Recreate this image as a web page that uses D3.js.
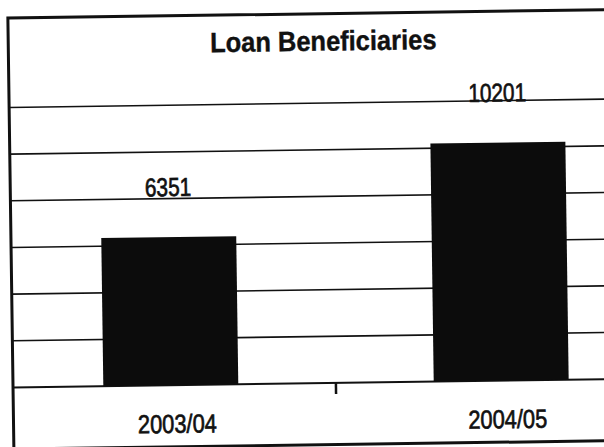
<!DOCTYPE html>
<html>
<head>
<meta charset="utf-8">
<script src="https://cdn.jsdelivr.net/npm/d3@7"></script>
<style>
  body { margin: 0; background: #fff; }
  svg { display: block; }
</style>
</head>
<body>
<main></main>
<script>
let svgWidth  = 604;
let svgHeight = 447;

const categories = ['2003/04', '2004/05'];
const values     = [6351, 10201];
const gridTicks  = [0, 2000, 4000, 6000, 8000, 10000, 12000];

const fontFamily = '"Liberation Sans", Arial, sans-serif';
const ink = '#111111';

var svg = d3.select('body main')
  .append('svg')
  .attr('width', svgWidth)
  .attr('height', svgHeight);

svg.append('rect')
  .attr('width', svgWidth)
  .attr('height', svgHeight)
  .attr('fill', '#ffffff');

// the scanned page sits a little crooked
var chart = svg.append('g')
  .attr('transform', 'rotate(-0.8, 302, 240)');

let x = d3.scaleBand()
  .domain(categories)
  .range([3.5, 664.5])
  .paddingInner(0.5915)
  .paddingOuter(0.296);

let y = d3.scaleLinear()
  .domain([0, 12000])
  .range([383.4, 103.4]);

// narrow text: regular glyphs squeezed sideways, a hair of stroke for the print weight
function narrowText(parent, tx, ty, sx, size, weight, str) {
  parent.append('g')
    .attr('transform', 'translate(' + tx + ',' + ty + ') scale(' + sx + ',1)')
    .append('text')
      .attr('text-anchor', 'middle')
      .attr('font-family', fontFamily)
      .attr('font-size', size + 'px')
      .attr('font-weight', weight)
      .attr('fill', ink)
      .attr('stroke', ink)
      .attr('stroke-width', weight === 'bold' ? 0.4 : 0.7)
      .text(str);
}

// outer frame
chart.append('rect')
  .attr('x', 11)
  .attr('y', 14)
  .attr('width', 700)
  .attr('height', 431)
  .attr('fill', 'none')
  .attr('stroke', ink)
  .attr('stroke-width', 3);

// gridlines
chart.append('g')
  .selectAll('line')
  .data(gridTicks)
  .enter()
    .append('line')
      .attr('x1', 11)
      .attr('x2', svgWidth + 20)
      .attr('y1', function(d) { return y(d); })
      .attr('y2', function(d) { return y(d); })
      .attr('stroke', ink)
      .attr('stroke-width', function(d) { return d === 0 ? 2 : 1.6; });

// bars
chart.append('g')
  .selectAll('rect')
  .data(values)
  .enter()
    .append('rect')
      .attr('x', function(d, i) { return x(categories[i]); })
      .attr('y', function(d) { return y(d); })
      .attr('width', x.bandwidth())
      .attr('height', function(d) { return y(0) - y(d); })
      .attr('fill', '#0c0c0c');

// value labels
values.forEach(function(d, i) {
  narrowText(chart, x(categories[i]) + x.bandwidth() / 2, y(d) - 41, 0.8, 26, 'normal', String(d));
});

// x axis: no domain line (gridline at 0 serves), one tick between the bars
let xAxis = d3.axisBottom(x)
  .tickValues([])
  .tickSize(0);

var ax = chart.append('g')
  .attr('transform', 'translate(0,' + y(0) + ')')
  .call(xAxis);
ax.select('.domain').remove();

ax.append('line')
  .attr('x1', x.step() + 3.5)
  .attr('x2', x.step() + 3.5)
  .attr('y1', 0)
  .attr('y2', 11)
  .attr('stroke', ink)
  .attr('stroke-width', 2.5);

categories.forEach(function(c) {
  narrowText(chart, x(c) + x.bandwidth() / 2 + 6, 431, 0.84, 26, 'normal', c);
});

// title
narrowText(chart, 326, 51, 0.91, 28, 'bold', 'Loan Beneficiaries');
</script>
</body>
</html>
